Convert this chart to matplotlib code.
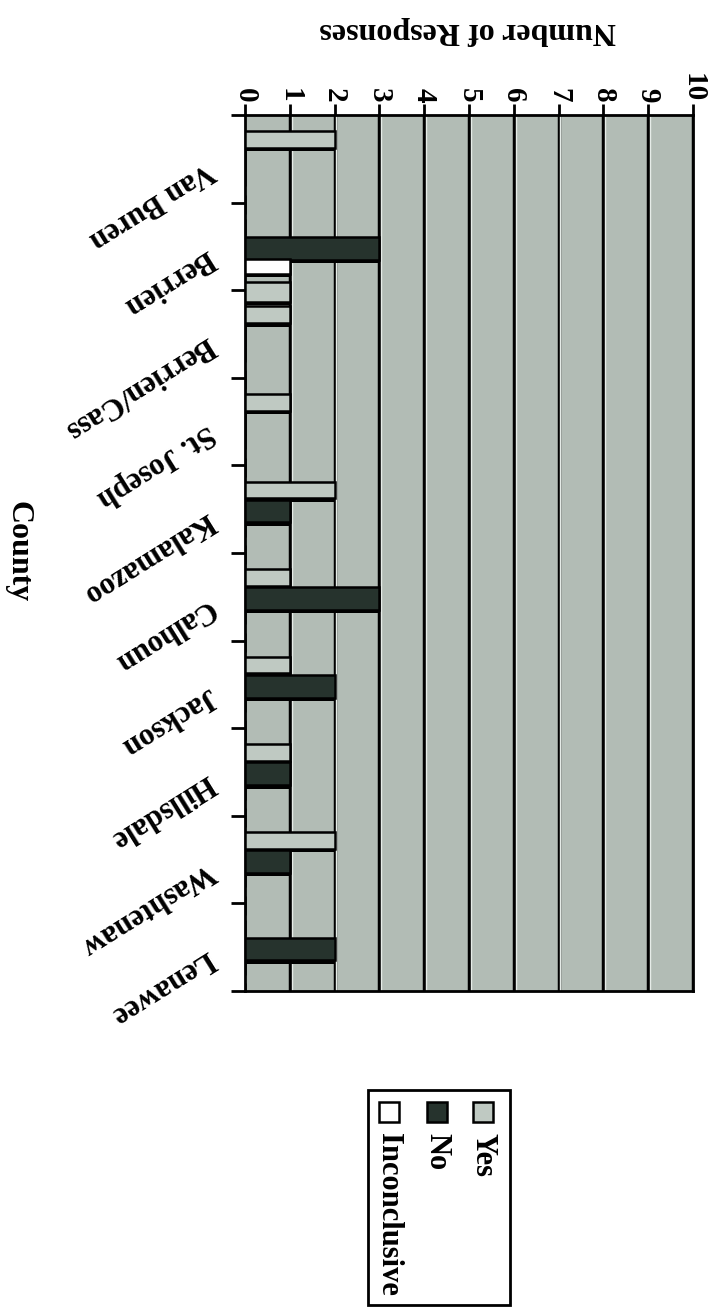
import matplotlib.pyplot as plt
import matplotlib.transforms as mtransforms
from matplotlib.patches import Rectangle
import numpy as np

plt.rcParams["font.family"] = ["Liberation Serif", "DejaVu Serif"]
plt.rcParams["font.weight"] = "bold"

counties = ["Van Buren", "Berrien", "Berrien/Cass", "St. Joseph", "Kalamazoo",
            "Calhoun", "Jackson", "Hillsdale", "Washtenaw", "Lenawee"]
yes = [2, 0, 1, 1, 2, 1, 1, 1, 2, 0]
no = [0, 3, 0, 0, 1, 3, 2, 1, 1, 2]
inconclusive = [0, 1, 0, 0, 0, 0, 0, 0, 0, 0]
# stray light bar drawn just below the Berrien group in the scan
extra_yes = [0, 1, 0, 0, 0, 0, 0, 0, 0, 0]
ticks = list(range(0, 11))

YES_C = "#bfc9c2"
NO_C = "#26332d"
INC_C = "#ffffff"
BG_C = "#b2bcb5"

fig = plt.figure(figsize=(7.13, 13.14), dpi=100)
ax = fig.add_axes([245 / 713, 1 - 991 / 1314, 448 / 713, (991 - 115) / 1314])
ax.set_facecolor(BG_C)

idx = np.arange(len(counties))
series = [
    (yes, YES_C, 0.28, 0.19),
    (no, NO_C, 0.52, 0.26),
    (inconclusive, INC_C, 0.73, 0.17),
    (extra_yes, YES_C, 1.02, 0.22),
]
for vals, col, off, h in series:
    vals = np.array(vals)
    # dark shadow under each bar
    ax.barh(idx + off + 0.04, vals, height=h, color="black", zorder=2)
    ax.barh(idx + off, vals, height=h, color=col, edgecolor="black",
            linewidth=1.8, zorder=3)

ax.set_xlim(0, 10)
ax.set_ylim(len(counties) - 0.0, 0.0)
ax.set_xticks(ticks)
ax.set_xticklabels([str(t) for t in ticks], rotation=-90, fontsize=21)
ax.xaxis.tick_top()
ax.tick_params(axis="x", length=8, width=2, pad=1)
ax.set_yticks(np.arange(0, len(counties) + 1))
ax.set_yticklabels([])
ax.tick_params(axis="y", length=10, width=2)
for x in ticks[1:]:
    ax.axvline(x, color="black", lw=2.5, zorder=1)
    ax.axvline(x + 0.04, color="#e6ece8", lw=1, zorder=1)
for s in ax.spines.values():
    s.set_linewidth(2)

trans = mtransforms.blended_transform_factory(ax.transAxes, ax.transData)
for i, name in enumerate(counties):
    ax.text(-0.075, i + 0.6, name, transform=trans, rotation=212,
            rotation_mode="anchor", ha="left", va="center", fontsize=22)

fig.text(468 / 713, 1 - 30 / 1314, "Number of Responses", rotation=180,
         ha="center", va="center", fontsize=23)
fig.text(18 / 713, 1 - 552 / 1314, "County", rotation=-90,
         ha="center", va="center", fontsize=23)

# legend drawn by hand, rotated like the rest of the scan
fig.patches.append(Rectangle((368 / 713, 1 - 1305 / 1314), 142 / 713, 215 / 1314,
                             transform=fig.transFigure, facecolor="white",
                             edgecolor="black", lw=2))
legend_items = [("Yes", YES_C, 483), ("No", NO_C, 437), ("Inconclusive", INC_C, 389)]
for label, col, xc in legend_items:
    fig.patches.append(Rectangle(((xc - 10) / 713, 1 - 1122 / 1314), 20 / 713, 20 / 1314,
                                 transform=fig.transFigure, facecolor=col,
                                 edgecolor="black", lw=1.8))
    fig.text(xc / 713, 1 - 1133 / 1314, label, rotation=-90, rotation_mode="anchor",
             ha="left", va="center", fontsize=22)

fig.savefig("out.png", dpi=100)
